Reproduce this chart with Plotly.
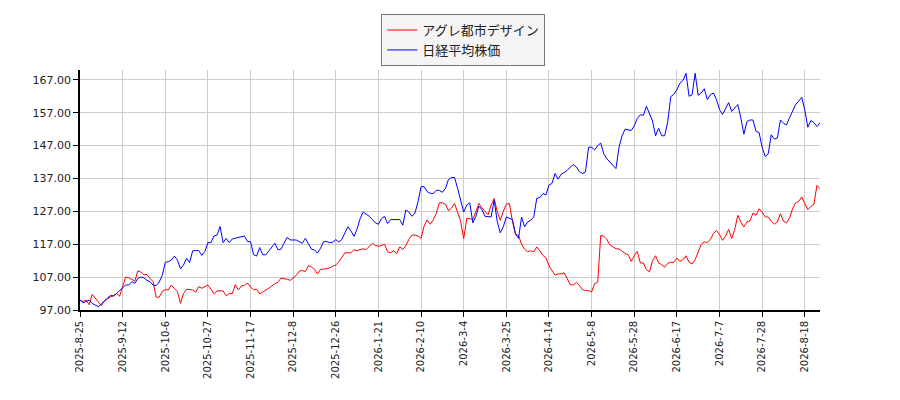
import plotly.graph_objects as go

# 株価推移（開始日=100 に正規化）、営業日ごと
agure = [
    100, 99.6, 100, 98.6, 101.8, 100.6, 99.2, 98.3, 99.8, 100.4,
    101, 101.3, 102, 101.2, 104, 107, 106.8, 106.2, 105.8, 108.9,
    108.5, 107.7, 107.8, 106.6, 105.6, 100.9, 100.9, 102.6, 103.2, 103.1,
    104.6, 103.5, 102.6, 99, 102, 103.3, 103.2, 103.1, 102.4, 104.1,
    103.6, 104, 104.6, 103.3, 101.9, 102.8, 102.8, 102.8, 101.3, 102,
    101.9, 104.7, 103.1, 104.3, 104.5, 105.2, 104, 103.2, 103.3, 101.9,
    102.5, 103, 103.6, 104.3, 105, 105.4, 106.7, 106.5, 106.4, 106,
    106.7, 107.5, 108.8, 109, 108.7, 110.5, 110.1, 109.3, 108, 109.4,
    109.4, 109.5, 109.8, 110.3, 110.7, 111.7, 113.2, 114.4, 114.4, 114.4,
    115.4, 115, 115.4, 115.6, 115.4, 116.2, 117.3, 116.6, 116.4, 116.6,
    117, 114.7, 114.4, 115, 114.2, 116.2, 115.4, 116.6, 118.5, 119.8,
    119.8, 119.5, 118.8, 122.5, 124.4, 123.1, 124.4, 126.4, 129.6, 129.6,
    129.2, 127.2, 128, 129.4, 127, 124, 118.7, 124.8, 124.8, 124.5,
    127, 129.4, 128, 127, 126, 128.9, 130.9, 127, 124.3, 127,
    129.2, 129.4, 124, 120, 119.7, 117, 115.5, 114.7, 115, 114.7,
    116.2, 115, 113.6, 112.9, 110.5, 109, 107.6, 108, 108, 108.3,
    106.5, 104.7, 104.6, 105.4, 104.5, 103.2, 102.9, 102.9, 102.5, 105,
    105.5, 119.7, 119.4, 118.5, 116.8, 116.3, 115.6, 115.6, 114.8, 114.2,
    113.8, 111.8, 113.5, 114.8, 111.3, 111.3, 109.3, 108.6, 112, 113.5,
    111.3, 110.8, 110, 111.2, 111.5, 111.5, 112.8, 111.8, 112.3, 113.5,
    111.5, 111, 112.3, 114.5, 117, 117.7, 117.5, 118.5, 120.2, 121.2,
    120, 118.2, 119.5, 121.5, 118.7, 121.5, 125.8, 123.8, 122.3, 123.8,
    124.1, 126.5, 125.8, 127.8, 126.8, 125.3, 125.3, 124, 123.1, 123.8,
    126.3, 124, 123.5, 125, 127.8, 129.6, 130, 131.4, 129.5, 127.5,
    128.5, 129.2, 134.9, 133.9,
]

nikkei = [
    100, 99.2, 99.6, 100, 99, 98.4, 98, 98.8, 99.8, 100.6,
    101.4, 101.3, 102, 102.8, 103.6, 104.6, 104.6, 105.6, 105.1, 106.6,
    107, 106.8, 106, 105.6, 104.6, 104.4, 105.5, 107.5, 111.5, 111.7,
    112.2, 113.4, 112.2, 109.5, 110.7, 112.7, 111.4, 115, 115.1, 115.1,
    113.6, 114.8, 117.5, 117.5, 119.5, 119.8, 122.4, 117.5, 118.8, 117.5,
    118.6, 118.8, 119.1, 119.3, 119.5, 117.8, 117.8, 113.8, 113.4, 116,
    113.8, 113.8, 115, 116.2, 117.3, 115.3, 115.5, 117.3, 119.1, 118.3,
    118.3, 118.3, 117.8, 117.3, 118.8, 117.3, 115.5, 115.3, 114.3, 115.8,
    117.8, 117.8, 117.5, 117.6, 118.4, 117.7, 118.5, 120.5, 122.3, 121,
    119.4, 121.7, 124.8, 126.8, 126.2, 125.5, 124.5, 123.5, 123.1, 124.8,
    125.5, 123.3, 124.5, 124.5, 124.5, 124.5, 122.8, 127.4, 126.8, 125.5,
    126.5, 129.9, 134.5, 134.5, 133, 132.5, 132.4, 133.4, 133.4, 132.8,
    134, 136.7, 137.3, 137.3, 134, 129.9, 126.8, 128.9, 129.6, 123.5,
    125.5, 128.6, 127.5, 125.5, 125.3, 125.3, 130.4, 124, 120.5, 122.3,
    125.3, 125, 124.5, 120.2, 118.8, 125.3, 122.3, 123.8, 124.3, 125.3,
    131, 131.2, 132.4, 132, 135, 135.5, 138.5, 136.8, 138.3, 138.8,
    139.5, 140.5, 141.2, 140.5, 139.1, 138.5, 139, 146.5, 146.5, 145.7,
    147, 147.8, 144.5, 143, 142, 141, 140, 146.5, 150, 152,
    151.8, 151.6, 153, 155.3, 156.4, 156.2, 159, 157, 154.5, 150,
    152.3, 150, 150, 154.3, 161.9, 162.6, 164, 166, 166.8, 169,
    162, 162.5, 169, 162.3, 163, 164.3, 161, 162.5, 163, 161,
    158, 156.5, 158.5, 160.1, 157.4, 158.5, 159.5, 155.5, 150.5, 154.3,
    154.8, 154.8, 151.3, 151, 146.5, 143.7, 144.5, 150.3, 149, 149.3,
    154.8, 153.8, 153.3, 155.5, 157.5, 159.5, 160.5, 161.7, 157.9, 152.6,
    154.6, 154, 152.8, 154,
]

# 14営業日ごとの目盛りラベル
tick_labels = [
    "2025-8-25", "2025-9-12", "2025-10-6", "2025-10-27", "2025-11-17",
    "2025-12-8", "2025-12-26", "2026-1-21", "2026-2-10", "2026-3-4",
    "2026-3-25", "2026-4-14", "2026-5-8", "2026-5-28", "2026-6-17",
    "2026-7-7", "2026-7-28", "2026-8-18",
]
tick_step = 14

days = list(range(len(agure)))

fig = go.Figure()
fig.add_trace(go.Scatter(x=days, y=agure, mode="lines", name="アグレ都市デザイン",
                         line=dict(color="red", width=1)))
fig.add_trace(go.Scatter(x=list(range(len(nikkei))), y=nikkei, mode="lines", name="日経平均株価",
                         line=dict(color="blue", width=1)))

fig.update_layout(
    width=900,
    height=400,
    margin=dict(l=80, r=80, t=70, b=90),
    paper_bgcolor="white",
    plot_bgcolor="white",
    font=dict(family="DejaVu Sans", color="#222"),
    legend=dict(
        x=0.518, xanchor="center", y=1.233, yanchor="top",
        bgcolor="#f4f4f4", bordercolor="#777", borderwidth=1,
        font=dict(family="Noto Sans CJK JP", size=13, color="#222"),
    ),
    xaxis=dict(
        range=[0, len(agure) - 1],
        tickmode="array",
        tickvals=[i * tick_step for i in range(len(tick_labels))],
        ticktext=tick_labels,
        tickangle=-90,
        tickfont=dict(size=10),
        showgrid=True, gridcolor="#cccccc", gridwidth=1,
        showline=True, linecolor="black", linewidth=1.5,
        ticks="outside", ticklen=5, tickcolor="black",
        zeroline=False,
    ),
    yaxis=dict(
        range=[97, 170],
        tick0=97, dtick=10,
        tickformat=".2f",
        tickfont=dict(size=11),
        showgrid=True, gridcolor="#cccccc", gridwidth=1,
        showline=True, linecolor="black", linewidth=1.5,
        ticks="outside", ticklen=5, tickcolor="black",
        zeroline=False,
    ),
)

# ページ本体の既定の余白 (8px) を外す
fig.write_html(
    "out.html",
    config={"displayModeBar": False},
    post_script="document.body.style.margin = '0';",
)
